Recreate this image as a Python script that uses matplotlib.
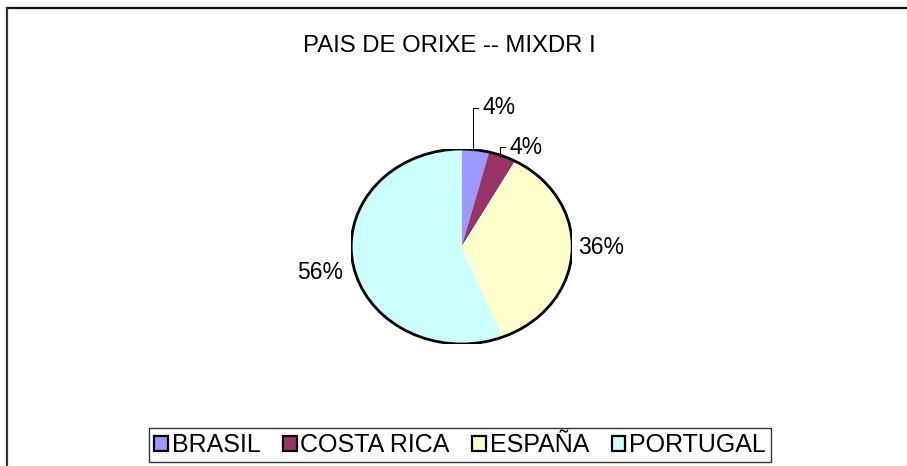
import matplotlib
matplotlib.use('Agg')
import matplotlib.pyplot as plt
from matplotlib.lines import Line2D
from matplotlib.patches import Circle, Patch
import numpy as np

plt.rcParams['font.family'] = ['Liberation Sans', 'DejaVu Sans']

# ── Data ──
countries = ['BRASIL', 'COSTA RICA', 'ESPAÑA', 'PORTUGAL']
counts = [1, 1, 9, 14]
colors = ['#9999FF', '#993366', '#FFFFCC', '#CCFFFF']
title = 'PAIS DE ORIXE -- MIXDR I'

W, H = 907, 466
fig = plt.figure(figsize=(W / 100, H / 100), dpi=100)

# pie axes: ellipse 221 x 195 px centred at (461.7, 246.5)
cx, cy, rx, ry = 461.7, 246.5, 110.5, 97.5
ax = fig.add_axes([(cx - rx) / W, 1 - (cy + ry) / H, 2 * rx / W, 2 * ry / H])
ax.axis('off')

wedges, _ = ax.pie(counts, colors=colors, startangle=90, counterclock=False,
                   radius=1, wedgeprops=dict(linewidth=0))
ax.set_xlim(-1, 1)
ax.set_ylim(-1, 1)
ax.set_aspect('auto')
ax.add_patch(Circle((0, 0), 1, fill=False, edgecolor='black', lw=2.0, zorder=5))

total = sum(counts)
pcts = [round(100 * c / total) for c in counts]

for w, p in zip(wedges, pcts):
    mid = np.deg2rad((w.theta1 + w.theta2) / 2)
    x0, y0 = np.cos(mid), np.sin(mid)
    lbl = f'{p}%'
    if p < 5:
        # small slice: elbow leader line going up
        ytop = y0 + (0.43 if x0 < 0.2 else 0.09)
        ax.plot([x0 - 0.025, x0 - 0.025, x0 + 0.025], [y0, ytop, ytop],
                color='black', lw=0.8, clip_on=False)
        ax.text(x0 + 0.065, ytop, lbl, ha='left', va='center', fontsize=16.5,
                clip_on=False)
    elif x0 >= 0:
        ax.text(1.05, y0 * 0.1, lbl, ha='left', va='center', fontsize=16.5,
                clip_on=False)
    else:
        ax.text(-1.07, y0 * 1.4, lbl, ha='right', va='center', fontsize=16.5,
                clip_on=False)

fig.text(449 / W, 1 - 46 / H, title, ha='center', va='center', fontsize=17.2)

handles = [Patch(facecolor=c, edgecolor='black', lw=1.6) for c in colors]
leg = fig.legend(handles, countries, loc='center', ncol=4,
                 bbox_to_anchor=(460 / W, 1 - 445 / H), fontsize=18,
                 frameon=True, fancybox=False, edgecolor='black',
                 handlelength=0.55, handleheight=0.55, handletextpad=0.15,
                 columnspacing=0.9, borderpad=0.2, borderaxespad=0)
leg.get_frame().set_linewidth(1.0)

# chart area border (top and left edges visible)
fig.add_artist(Line2D([7 / W, 1], [1 - 8 / H, 1 - 8 / H], color='#111111',
                      lw=1.6, transform=fig.transFigure))
fig.add_artist(Line2D([7 / W, 7 / W], [0, 1 - 8 / H], color='#333333',
                      lw=1.6, transform=fig.transFigure))

fig.savefig('out.png', dpi=100, facecolor='white')
